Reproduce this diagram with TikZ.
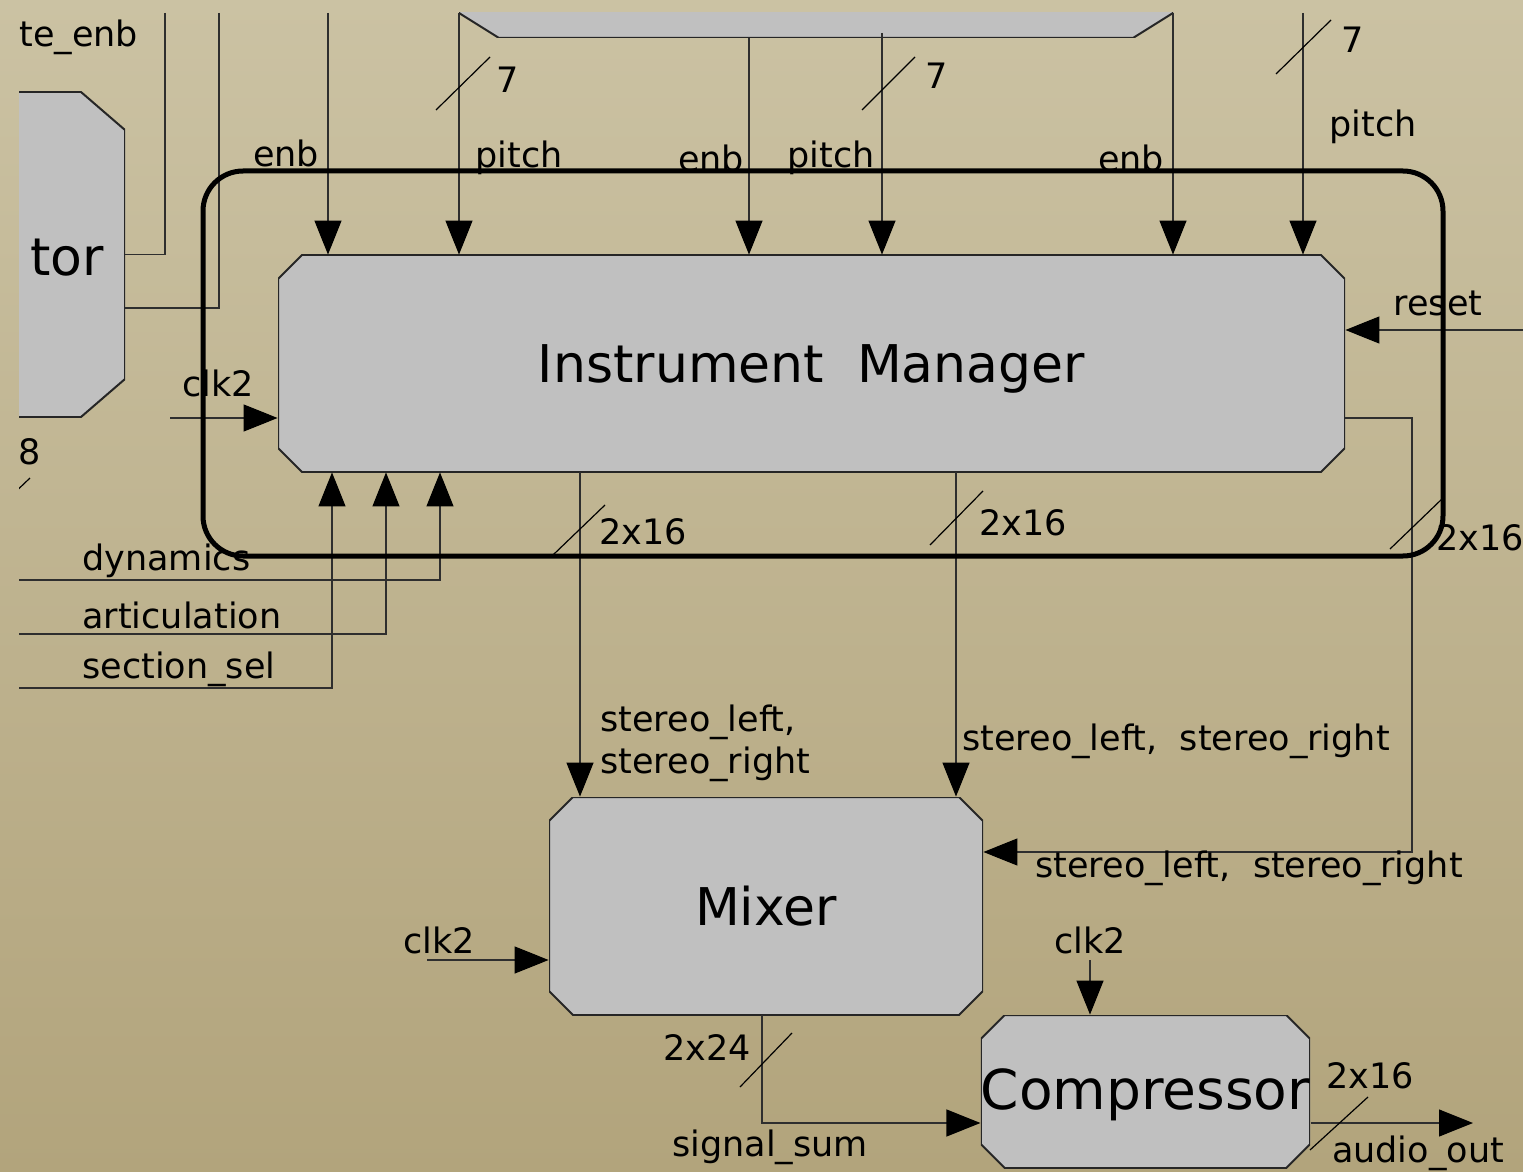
\documentclass[tikz,border=0pt]{standalone}
\usepackage{fontspec}
\setmainfont{DejaVu Sans}
\usepackage{tikz}
\usetikzlibrary{arrows.meta,positioning,calc}
\definecolor{papertop}{HTML}{CBC2A3}
\definecolor{paperbot}{HTML}{B2A47C}
\definecolor{blockgray}{HTML}{C0C0C0}
\definecolor{wire}{HTML}{2E2E2E}
\newcommand{\lblfont}{\fontsize{17.5}{21}\selectfont}
\newcommand{\bigfont}{\fontsize{26}{30}\selectfont}
\tikzset{
  chamx/.store in=\chamx, chamy/.store in=\chamy,
  cham/.style={chamx=#1,chamy=#1}, cham=12pt,
  blk_box/.style={rectangle,inner sep=0pt,font=\bigfont,
    path picture={\filldraw[fill=blockgray,draw=black!85,line width=1pt]
      ([yshift=-\chamy]path picture bounding box.north west) -- ([xshift=\chamx]path picture bounding box.north west)
      -- ([xshift=-\chamx]path picture bounding box.north east) -- ([yshift=-\chamy]path picture bounding box.north east)
      -- ([yshift=\chamy]path picture bounding box.south east) -- ([xshift=-\chamx]path picture bounding box.south east)
      -- ([xshift=\chamx]path picture bounding box.south west) -- ([yshift=\chamy]path picture bounding box.south west) -- cycle;}},
  sig/.style={draw=wire,line width=0.6pt},
  arr/.style={sig,-{Triangle[length=17pt,width=13.5pt,color=black]}},
  bus_mark/.style={draw=black,line width=0.6pt},
  lbl/.style={inner sep=0pt,font=\lblfont},
  grp/.style={draw=black,line width=2.5pt,rounded corners=20pt},
}

\begin{document}
\begin{tikzpicture}[x=0.5pt,y=-0.5pt]
  \useasboundingbox (0,0) rectangle (1523,1172);
  \shade[top color=papertop,bottom color=paperbot] (0,0) rectangle (1523,1172);
  \begin{scope}
    \clip (19,13) rectangle (1523,1172);

    \node[blk_box,chamx=22pt,chamy=19pt,minimum width=103pt,minimum height=162.5pt] (sel) at (22,254.5) {};
    \node[blk_box,chamx=20pt,chamy=12.5pt,minimum width=357pt,minimum height=69pt] (rom) at (816,-31) {};
    \node[blk_box,minimum width=533.5pt,minimum height=108.5pt,text height=25pt,text depth=6pt] (im) at (811.5,363.5) {Instrument\ \ Manager};
    \node[blk_box,minimum width=217pt,minimum height=109pt] (mx) at (766,906) {Mixer};
    \node[blk_box,minimum width=162.5pt,minimum height=76.5pt,font=\fontsize{27.5}{30}\selectfont,text height=24pt,text depth=6pt] (comp) at (1145.5,1091.5) {Compressor};
    \node[font=\bigfont,inner sep=0pt,anchor=east] (seltxt) at (104,258) {tor};

    \coordinate (c_a) at (165,13);
    \coordinate (c_b) at (219,13);
    \coordinate (in_enb1) at (328,13);
    \coordinate (in_pitch1) at (459,13);
    \coordinate (x_enb2) at (749,0);
    \coordinate (in_pitch2) at (882,33);
    \coordinate (in_enb3) at (1173,13);
    \coordinate (in_pitch3) at (1303,13);
    \coordinate (c_rst) at (1523,330);
    \coordinate (c_clk1) at (170,418);
    \coordinate (c_dyn) at (19,580);
    \coordinate (c_art) at (19,634);
    \coordinate (c_sec) at (19,688);
    \coordinate (x_dyn) at (440,0);
    \coordinate (x_art) at (386,0);
    \coordinate (x_sec) at (332,0);
    \coordinate (x_o1) at (580,0);
    \coordinate (x_o2) at (956,0);
    \coordinate (c_o3) at (1412,852);
    \coordinate (c_clk2) at (427,960);
    \coordinate (c_sum) at (762,1123);
    \coordinate (c_clk3) at (1090,960);
    \coordinate (c_out) at (1473,1123);

    \draw[sig] (c_a) |- (sel.east);
    \draw[sig] (c_b) |- ([yshift=-26.75pt]sel.east);
    \draw[arr] (in_enb1) -- (in_enb1 |- im.north);
    \draw[arr] (in_pitch1) -- (in_pitch1 |- im.north);
    \draw[arr] (x_enb2 |- rom.south) -- (x_enb2 |- im.north);
    \draw[arr] (in_pitch2) -- (in_pitch2 |- im.north);
    \draw[arr] (in_enb3) -- (in_enb3 |- im.north);
    \draw[arr] (in_pitch3) -- (in_pitch3 |- im.north);
    \draw[arr] (c_rst) -- (c_rst -| im.east);
    \draw[arr] (c_clk1) -- (c_clk1 -| im.west);
    \draw[arr] (c_dyn) -| (x_dyn |- im.south);
    \draw[arr] (c_art) -| (x_art |- im.south);
    \draw[arr] (c_sec) -| (x_sec |- im.south);
    \draw[arr] (x_o1 |- im.south) -- (x_o1 |- mx.north);
    \draw[arr] (x_o2 |- im.south) -- (x_o2 |- mx.north);
    \draw[arr] ([yshift=-27.25pt]im.east) -| (c_o3) -- (c_o3 -| mx.east);
    \draw[arr] (c_clk2) -- (c_clk2 -| mx.west);
    \draw[arr] (c_sum |- mx.south) -- (c_sum) -- (c_sum -| comp.west);
    \draw[arr] (c_clk3) -- (c_clk3 |- comp.north);
    \draw[arr] (c_out -| comp.east) -- (c_out);

    \draw[bus_mark] (436,110) -- (490,57);
    \draw[bus_mark] (862,110) -- (915,57);
    \draw[bus_mark] (1276,74) -- (1331,20);
    \draw[bus_mark] (553,555) -- (605,505);
    \draw[bus_mark] (930,545) -- (983,491);
    \draw[bus_mark] (1390,549) -- (1443,498);
    \draw[bus_mark] (740,1087) -- (792,1033);
    \draw[bus_mark] (1310,1150) -- (1368,1097);
    \draw[bus_mark] (8,499) -- (30,478);

    \draw[grp] (203,171) rectangle (1443,556);

    \node[lbl,anchor=west] (l_teenb) at (19,37) {te\_enb};
    \node[lbl] (l_enb1) at (286,153) {enb};
    \node[lbl] (l_pitch1) at (519,158) {pitch};
    \node[lbl] (l_enb2) at (711,158) {enb};
    \node[lbl] (l_pitch2) at (831,158) {pitch};
    \node[lbl] (l_enb3) at (1131,158) {enb};
    \node[lbl] (l_pitch3) at (1373,127) {pitch};
    \node[lbl] (l_w1) at (508,80) {7};
    \node[lbl] (l_w2) at (937,76) {7};
    \node[lbl] (l_w3) at (1353,40) {7};
    \node[lbl] (l_reset) at (1438,303) {reset};
    \node[lbl] (l_clk1) at (218,383) {clk2};
    \node[lbl] (l_w8) at (30,452) {8};
    \node[lbl,anchor=west] (l_dyn) at (82,561) {dynamics};
    \node[lbl,anchor=west] (l_art) at (82,615) {articulation};
    \node[lbl,anchor=west] (l_sec) at (82,669) {section\_sel};
    \node[lbl] (l_b1) at (643,532) {2x16};
    \node[lbl] (l_b2) at (1023,523) {2x16};
    \node[lbl] (l_b3) at (1480,538) {2x16};
    \node[lbl,anchor=west,align=left] (l_st1) at (600,743) {stereo\_left,\\stereo\_right};
    \node[lbl,anchor=west] (l_st2) at (962,741) {stereo\_left,\ \ stereo\_right};
    \node[lbl,anchor=west] (l_st3) at (1035,868) {stereo\_left,\ \ stereo\_right};
    \node[lbl] (l_clk2) at (439,940) {clk2};
    \node[lbl] (l_b24) at (707,1048) {2x24};
    \node[lbl] (l_sum) at (770,1147) {signal\_sum};
    \node[lbl] (l_clk3) at (1090,940) {clk2};
    \node[lbl] (l_b4) at (1370,1076) {2x16};
    \node[lbl] (l_out) at (1418,1153) {audio\_out};
  \end{scope}
\end{tikzpicture}
\end{document}
